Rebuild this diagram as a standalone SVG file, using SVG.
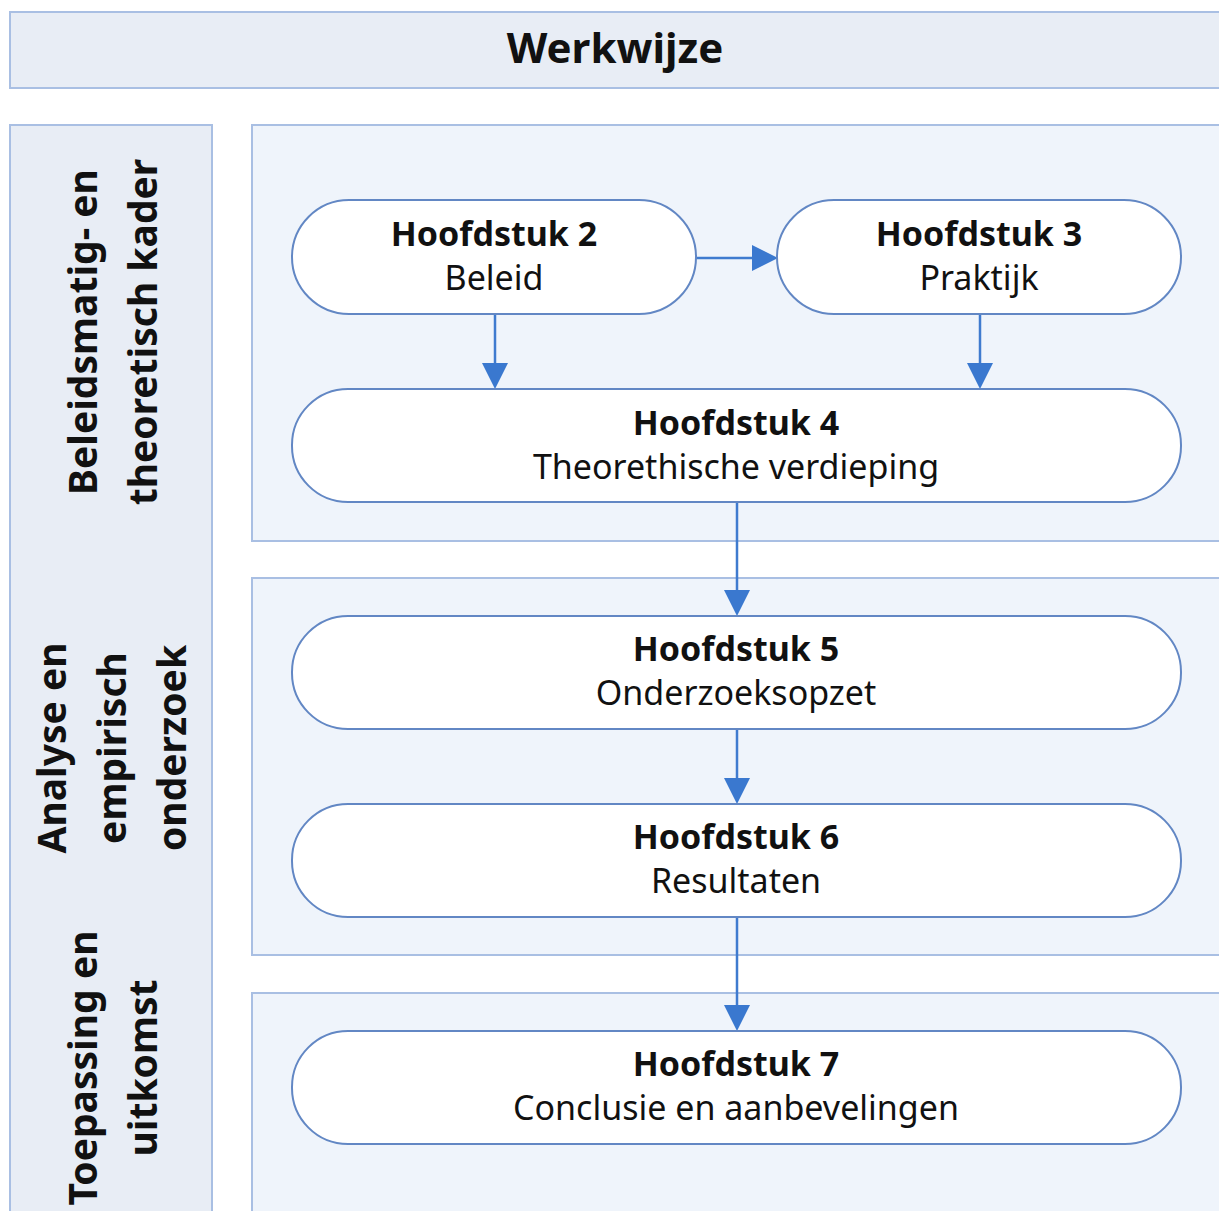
<svg xmlns="http://www.w3.org/2000/svg" width="1219" height="1211" viewBox="0 0 1219 1211">
  <defs>
    <style>
      .band { fill: #e8edf5; stroke: #a9bfe3; stroke-width: 2; }
      .panel { fill: #eff4fb; stroke: #a9bfe3; stroke-width: 2; }
      .node { fill: #ffffff; stroke: #6287c4; stroke-width: 2; }
      .conn { stroke: #3f7bcf; stroke-width: 2.5; fill: none; }
      .head { fill: #3a78cf; }
      .t { font-family: "Noto Sans", "Open Sans", sans-serif; fill: #111111; text-anchor: middle; }
      .b { font-weight: bold; }
      .title { font-size: 42px; }
      .side { font-size: 39px; font-weight: bold; }
      .nt { font-size: 34px; }
    </style>
  </defs>

  <!-- header bar -->
  <g id="header">
    <rect class="band" x="10" y="12" width="1220" height="76"/>
    <text class="t b title" x="615" y="63">Werkwijze</text>
  </g>

  <!-- left column with phase labels -->
  <g id="phase-column">
    <rect class="band" x="10" y="125" width="202" height="1100"/>
    <g transform="translate(97,332) rotate(-90)">
      <text class="t side" x="0" y="0">Beleidsmatig- en</text>
    </g>
    <g transform="translate(157,332) rotate(-90)">
      <text class="t side" x="0" y="0">theoretisch kader</text>
    </g>
    <g transform="translate(66,748) rotate(-90)">
      <text class="t side" x="0" y="0">Analyse en</text>
    </g>
    <g transform="translate(126,748) rotate(-90)">
      <text class="t side" x="0" y="0">empirisch</text>
    </g>
    <g transform="translate(186,748) rotate(-90)">
      <text class="t side" x="0" y="0">onderzoek</text>
    </g>
    <g transform="translate(97,1068) rotate(-90)">
      <text class="t side" x="0" y="0">Toepassing en</text>
    </g>
    <g transform="translate(157,1068) rotate(-90)">
      <text class="t side" x="0" y="0">uitkomst</text>
    </g>
  </g>

  <!-- phase panels -->
  <g id="panels">
    <rect class="panel" x="252" y="125" width="980" height="416"/>
    <rect class="panel" x="252" y="578" width="980" height="377"/>
    <rect class="panel" x="252" y="993" width="980" height="240"/>
  </g>

  <!-- connectors -->
  <g id="connectors">
    <line class="conn" x1="696" y1="258" x2="754" y2="258"/>
    <polygon class="head" points="752,245 778,258 752,271"/>
    <line class="conn" x1="495" y1="314" x2="495" y2="365"/>
    <polygon class="head" points="482,363 508,363 495,389"/>
    <line class="conn" x1="980" y1="314" x2="980" y2="365"/>
    <polygon class="head" points="967,363 993,363 980,389"/>
    <line class="conn" x1="737" y1="502" x2="737" y2="592"/>
    <polygon class="head" points="724,590 750,590 737,616"/>
    <line class="conn" x1="737" y1="729" x2="737" y2="780"/>
    <polygon class="head" points="724,778 750,778 737,804"/>
    <line class="conn" x1="737" y1="917" x2="737" y2="1007"/>
    <polygon class="head" points="724,1005 750,1005 737,1031"/>
  </g>

  <!-- chapter nodes -->
  <g id="h2">
    <rect class="node" x="292" y="200" width="404" height="114" rx="57" ry="57"/>
    <text class="t b nt" x="494" y="246">Hoofdstuk 2</text>
    <text class="t nt" x="494" y="290">Beleid</text>
  </g>
  <g id="h3">
    <rect class="node" x="777" y="200" width="404" height="114" rx="57" ry="57"/>
    <text class="t b nt" x="979" y="246">Hoofdstuk 3</text>
    <text class="t nt" x="979" y="290">Praktijk</text>
  </g>
  <g id="h4">
    <rect class="node" x="292" y="389" width="889" height="113" rx="56" ry="56"/>
    <text class="t b nt" x="736" y="435">Hoofdstuk 4</text>
    <text class="t nt" x="736" y="479">Theorethische verdieping</text>
  </g>
  <g id="h5">
    <rect class="node" x="292" y="616" width="889" height="113" rx="56" ry="56"/>
    <text class="t b nt" x="736" y="661">Hoofdstuk 5</text>
    <text class="t nt" x="736" y="705">Onderzoeksopzet</text>
  </g>
  <g id="h6">
    <rect class="node" x="292" y="804" width="889" height="113" rx="56" ry="56"/>
    <text class="t b nt" x="736" y="849">Hoofdstuk 6</text>
    <text class="t nt" x="736" y="893">Resultaten</text>
  </g>
  <g id="h7">
    <rect class="node" x="292" y="1031" width="889" height="113" rx="56" ry="56"/>
    <text class="t b nt" x="736" y="1076">Hoofdstuk 7</text>
    <text class="t nt" x="736" y="1120">Conclusie en aanbevelingen</text>
  </g>
</svg>
